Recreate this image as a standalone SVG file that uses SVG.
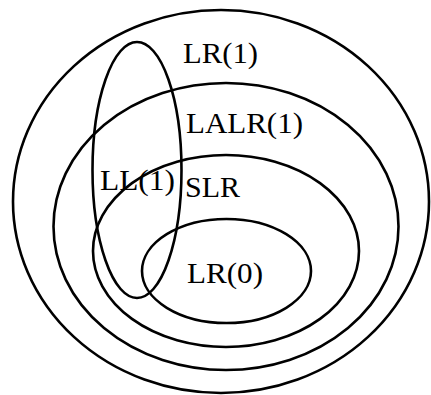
<svg xmlns="http://www.w3.org/2000/svg" width="431" height="395" viewBox="0 0 431 395">
<style>
.set{fill:none;stroke:#000;stroke-width:2.6}
.lbl{font-family:"Liberation Serif","Times New Roman",serif;font-size:30px;fill:#000}
</style>
<rect width="431" height="395" fill="#fff"/>
<g id="lr1"><ellipse class="set" cx="221" cy="201.5" rx="208" ry="191.5"/><text class="lbl" x="183" y="63" textLength="75" lengthAdjust="spacingAndGlyphs">LR(1)</text></g>
<g id="lalr1"><ellipse class="set" cx="226" cy="226.5" rx="172.5" ry="143.5"/><text class="lbl" x="186" y="133" textLength="117" lengthAdjust="spacingAndGlyphs">LALR(1)</text></g>
<g id="slr"><ellipse class="set" cx="226" cy="251" rx="133" ry="96"/><text class="lbl" x="185" y="197" textLength="55" lengthAdjust="spacingAndGlyphs">SLR</text></g>
<g id="lr0"><ellipse class="set" cx="226.5" cy="271" rx="84.5" ry="52"/><text class="lbl" x="187" y="283" textLength="76" lengthAdjust="spacingAndGlyphs">LR(0)</text></g>
<g id="ll1"><ellipse class="set" cx="137" cy="170" rx="44.5" ry="128"/><text class="lbl" x="100" y="190" textLength="75" lengthAdjust="spacingAndGlyphs">LL(1)</text></g>
<g id="connectors"></g>
</svg>
